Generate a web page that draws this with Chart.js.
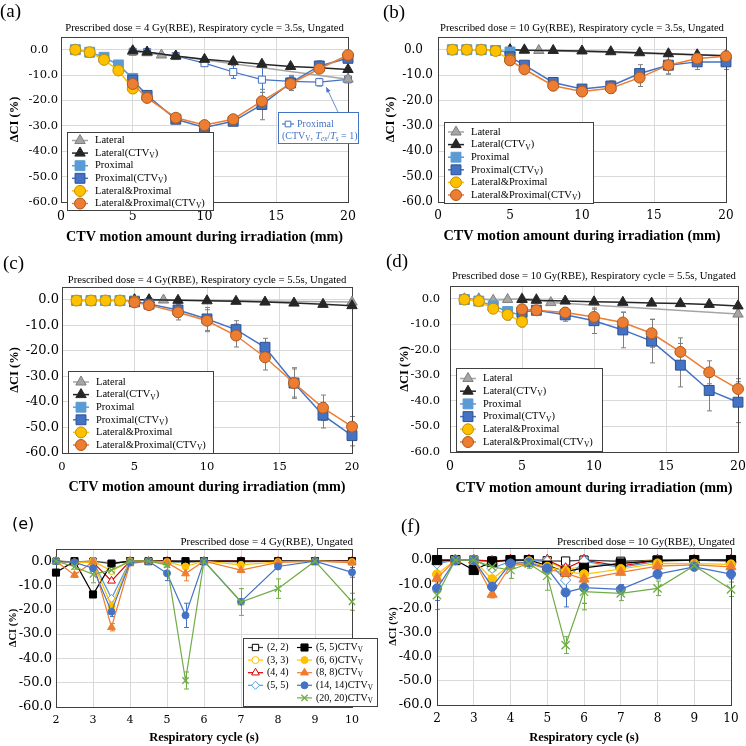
<!DOCTYPE html>
<html><head><meta charset="utf-8">
<script src="https://cdn.jsdelivr.net/npm/chart.js@4.4.1/dist/chart.umd.min.js"></script>
<style>
html,body{margin:0;padding:0;background:#fff;}
body{width:746px;height:746px;position:relative;overflow:hidden;}
canvas{position:absolute;}
.lbl{position:absolute;font-family:"Liberation Serif","Times New Roman",serif;font-size:19px;line-height:22px;color:#000;}
</style></head><body>
<canvas id="ca" width="373" height="250" style="left:0;top:0"></canvas>
<canvas id="cb" width="373" height="250" style="left:373px;top:0"></canvas>
<canvas id="cc" width="373" height="250" style="left:0;top:250px"></canvas>
<canvas id="cd" width="373" height="250" style="left:373px;top:250px"></canvas>
<canvas id="cf" width="373" height="246" style="left:373px;top:500px"></canvas>
<canvas id="ce" width="380" height="246" style="left:0;top:500px"></canvas>
<div class="lbl" style="left:0;top:0">(a)</div>
<div class="lbl" style="left:383px;top:1px">(b)</div>
<div class="lbl" style="left:3px;top:252px">(c)</div>
<div class="lbl" style="left:386px;top:250px">(d)</div>
<div class="lbl" style="left:12px;top:513px;font-family:'DejaVu Sans',sans-serif;font-size:16px">(e)</div>
<div class="lbl" style="left:401px;top:515px">(f)</div>
<script>
const FONT = '"Liberation Serif","Times New Roman",serif';
const TFONT = '"DejaVu Serif",serif';

// ---------------- DATA ----------------
const XTITLE_MOTION = 'CTV motion amount during irradiation (mm)';
const XTITLE_CYCLE = 'Respiratory cycle (s)';
const YTITLE = 'ΔCI (%)';
const LABELS_AD = ['Lateral','Lateral(CTV_{V})','Proximal','Proximal(CTV_{V})','Lateral&Proximal','Lateral&Proximal(CTV_{V})'];
const TITLE_A = 'Prescribed dose = 4 Gy(RBE), Respiratory cycle = 3.5s, Ungated';
const TITLE_B = 'Prescribed dose = 10 Gy(RBE), Respiratory cycle = 3.5s, Ungated';
const TITLE_C = 'Prescribed dose = 4 Gy(RBE), Respiratory cycle = 5.5s, Ungated';
const TITLE_D = 'Prescribed dose = 10 Gy(RBE), Respiratory cycle = 5.5s, Ungated';
const TITLE_E = 'Prescribed dose = 4 Gy(RBE), Ungated';
const TITLE_F = 'Prescribed dose = 10 Gy(RBE), Ungated';

// (a)
const A_lat_x = [5,6,7,8,20];
const A_lat_y = [-0.8,-1.2,-2.1,-2.5,-11.6];
const A_latV_x = [5,6,8,10,12,14,16,18,20];
const A_latV_y = [-0.4,-0.9,-2.5,-3.8,-4.7,-5.7,-6.6,-7.1,-7.8];
const A_prox_x = [1,2,3,4,5];
const A_prox_y = [0,-1.0,-3.0,-6.0,-11.3];
const A_proxV_x = [5,6,8,10,12,14,16,18,20];
const A_proxV_y = [-12.0,-18.0,-27.4,-30.6,-28.2,-21.6,-13.1,-6.4,-3.4];
const A_proxV_e = [1.5,1.0,1.2,1.0,1.0,6.0,3.0,2.0,1.5];
const A_lp_x = [1,2,3,4,5];
const A_lp_y = [0,-1.0,-4.0,-8.2,-15.3];
const A_lpV_x = [5,6,8,10,12,14,16,18,20];
const A_lpV_y = [-13.5,-19.0,-26.8,-29.7,-27.4,-20.3,-13.5,-7.5,-2.1];
const A_lpV_e = [1.0,1.0,1.0,1.0,1.0,1.5,2.5,1.5,1.0];
const A_pT1_label = 'Proximal';
const A_pT1_x = [5,6,8,10,12,14,16,18,20];
const A_pT1_y = [-0.8,-0.9,-2.5,-5.3,-8.8,-11.8,-12.5,-12.8,-11.7];
const A_pT1_e = [0.5,0.5,0.5,1.0,2.5,5.0,2.0,1.5,1.0];

// (b)
const B_lat_x = [5,6,7,20];
const B_lat_y = [0,0,-0.3,-2.4];
const B_latV_x = [5,6,8,10,12,14,16,18,20];
const B_latV_y = [0,-0.2,-0.3,-0.5,-0.8,-1.2,-1.6,-2.0,-2.4];
const B_prox_x = [1,2,3,4,5];
const B_prox_y = [0,0,0,-0.3,-0.9];
const B_proxV_x = [5,6,8,10,12,14,16,18,20];
const B_proxV_y = [-2.8,-6.1,-12.9,-15.5,-14.3,-9.4,-6.1,-4.8,-4.8];
const B_proxV_e = [0.5,0.8,1.0,1.5,2.0,3.5,3.5,3.0,3.0];
const B_lp_x = [1,2,3,4,5];
const B_lp_y = [0,0,0,-0.5,-4.0];
const B_lpV_x = [5,6,8,10,12,14,16,18,20];
const B_lpV_y = [-4.2,-7.7,-14.2,-16.5,-15.2,-11.0,-6.1,-3.5,-2.6];
const B_lpV_e = [0.5,0.8,1.0,1.5,2.0,3.5,3.5,2.5,2.0];

// (c)
const C_lat_x = [5,6,7,20];
const C_lat_y = [0,0,-0.1,-0.9];
const C_latV_x = [5,6,8,10,12,14,16,18,20];
const C_latV_y = [0,0,-0.2,-0.4,-0.6,-0.9,-1.3,-1.8,-2.3];
const C_prox_x = [1,2,3,4,5];
const C_prox_y = [-0.3,-0.3,-0.3,-0.3,-0.5];
const C_proxV_x = [5,6,8,10,12,14,16,18,20];
const C_proxV_y = [-0.8,-1.7,-4.0,-7.5,-11.7,-18.6,-32.6,-45.2,-53.2];
const C_proxV_e = [0.5,0.5,2.5,4.5,3.5,3.5,6.0,5.0,4.0];
const C_lp_x = [1,2,3,4,5];
const C_lp_y = [-0.3,-0.3,-0.3,-0.3,-0.8];
const C_lpV_x = [5,6,8,10,12,14,16,18,20];
const C_lpV_y = [-1.0,-2.1,-4.9,-8.2,-14.0,-22.5,-32.6,-42.3,-49.7];
const C_lpV_e = [0.5,0.5,3.0,4.3,4.5,5.0,5.5,5.0,4.0];

// (d)
const D_lat_x = [1,2,3,4,5,6,7,20];
const D_lat_y = [0,0,-0.6,-0.3,0,-0.3,-1.5,-6.0];
const D_latV_x = [5,6,8,10,12,14,16,18,20];
const D_latV_y = [-0.3,-0.6,-0.9,-1.2,-1.4,-1.7,-1.9,-2.2,-2.8];
const D_prox_x = [1,2,3,4,5];
const D_prox_y = [-0.3,-0.9,-2.8,-5.0,-6.5];
const D_prox_e = [0,0,1.0,1.5,2.0];
const D_proxV_x = [5,6,8,10,12,14,16,18,20];
const D_proxV_y = [-5.2,-4.5,-6.3,-8.6,-12.2,-16.6,-26.0,-35.9,-40.5];
const D_proxV_e = [1.0,1.0,2.5,5.0,7.0,8.5,8.5,8.0,8.0];
const D_lp_x = [1,2,3,4,5];
const D_lp_y = [-0.3,-0.9,-3.9,-6.3,-9.0];
const D_lp_e = [0,0,1.5,2.0,2.0];
const D_lpV_x = [5,6,8,10,12,14,16,18,20];
const D_lpV_y = [-4.1,-4.5,-5.4,-7.1,-9.3,-13.5,-20.8,-28.8,-35.3];
const D_lpV_e = [1.0,1.0,2.0,3.0,4.0,5.5,5.5,4.5,4.0];

// (e) and (f): respiratory cycle
const CYCLE = [2,2.5,3,3.5,4,4.5,5,5.5,6,7,8,9,10];
const LABELS_EF = ['(2, 2)','(3, 3)','(4, 4)','(5, 5)','(5, 5)CTV_{V}','(6, 6)CTV_{V}','(8, 8)CTV_{V}','(14, 14)CTV_{V}','(20, 20)CTV_{V}'];
const E_22    = [0,-0.3,0,-1.0,0,0,0,0,0,0,0,0,0];
const E_33    = [0,-0.5,0,-4.0,0,0,-0.3,-0.5,0,-0.3,0,0,-0.3];
const E_44    = [0,-0.5,-0.5,-8.1,0,0,0,-0.3,0,0,0,0,0];
const E_55    = [0,-0.5,0,-15.3,0,0,-0.3,-0.5,0,-0.3,0,0,-0.3];
const E_55v   = [-4.7,0,-13.7,-1.0,0,0,0,0,0,0,0,0,0];
const E_66v   = [0,-0.5,-0.5,-18.5,0,0,-0.3,-2.2,0,-1.5,-0.3,0,-0.3];
const E_88v   = [0,-5.7,-0.2,-27.2,-1.0,0,-0.5,-5.1,0,-3.7,-0.5,0,-0.6];
const E_88v_e = [0,1.0,0,1.5,0,0,0,3.0,0,1.0,0,0,0.5];
const E_1414v = [0,-0.5,-2.9,-20.8,-0.5,0,-5.0,-22.3,0,-16.7,-2.2,0,-4.6];
const E_1414v_e = [0,0.5,1.0,2.0,0.5,0,3.0,5.0,0,1.0,1.0,0,2.0];
const E_2020v = [0,-2.3,-5.4,-3.7,0,0,-1.5,-49.1,0,-16.8,-11.3,0,-16.7];
const E_2020v_e = [0,1.0,3.5,1.5,0,0,1.0,3.5,0,5.5,4.0,0,3.5];

const F_22    = [0,0,0,-0.3,0,0,-0.3,-0.4,0,-0.5,0,0,0];
const F_33    = [-0.5,0,0,-1.0,0,0,-0.5,-4.0,-2.5,-1.5,0,0,-0.3];
const F_44    = [-0.5,0,0,-0.5,0,0,0,-3.5,0,-2.5,0,0,0];
const F_55    = [-1.5,0,0,-3.4,-0.5,0,-0.5,-8.3,-0.5,-3.0,-0.5,0,-0.5];
const F_55v   = [0,0,-4.1,-0.7,0,0,-2.3,-4.8,-3.2,-1.4,-0.2,0,0];
const F_66v   = [-5.9,0,0,-7.9,-1.8,-0.5,-2.8,-4.6,-5.9,-3.7,-1.4,-1.5,-1.8];
const F_88v   = [-7.6,0,0,-14.2,-2.3,-1.5,-3.7,-5.5,-7.9,-5.1,-2.5,-2.0,-2.8];
const F_88v_e = [1.5,0,0,1.5,1.0,1.0,1.0,2.0,1.5,1.0,1.0,0.5,1.0];
const F_1414v = [-11.7,0,0,-11.0,-1.4,-1.0,-3.4,-13.4,-11.4,-12.1,-5.8,-2.8,-5.8];
const F_1414v_e = [5.0,0,0,1.5,1.0,1.0,2.0,6.0,6.5,2.0,2.0,1.0,2.0];
const F_2020v = [-14.5,0,0,-2.8,-4.1,-1.4,-6.5,-35.2,-13.1,-13.8,-11.7,-2.3,-12.1];
const F_2020v_e = [6.0,0,0,2.0,3.5,2.0,6.0,3.5,7.5,3.0,3.0,2.0,3.0];

// ---------------- STYLES ----------------
const ST = {
  lat:  {borderColor:'#a5a5a5', pointStyle:'triangle', pointRadius:6, pointBackgroundColor:'#a5a5a5', pointBorderColor:'#7f7f7f'},
  latV: {borderColor:'#262626', pointStyle:'triangle', pointRadius:6, pointBackgroundColor:'#262626', pointBorderColor:'#262626'},
  prox: {borderColor:'#5b9bd5', pointStyle:'rect', pointRadius:7, pointBackgroundColor:'#5b9bd5', pointBorderColor:'#5b9bd5'},
  proxV:{borderColor:'#4472c4', pointStyle:'rect', pointRadius:7, pointBackgroundColor:'#4472c4', pointBorderColor:'#2f528f'},
  lp:   {borderColor:'#ffc000', pointStyle:'circle', pointRadius:5.5, pointBackgroundColor:'#ffc000', pointBorderColor:'#bf9000'},
  lpV:  {borderColor:'#ed7d31', pointStyle:'circle', pointRadius:5.5, pointBackgroundColor:'#ed7d31', pointBorderColor:'#ae5a21'},
  pT1:  {borderColor:'#4472c4', pointStyle:'rect', pointRadius:5, pointBackgroundColor:'#ffffff', pointBorderColor:'#4472c4', borderWidth:1.2}
};
function stEF(s){ return [
  {borderColor:'#404040', pointStyle:'rect', pointRadius:4.5*s, pointBackgroundColor:'#fff', pointBorderColor:'#000'},
  {borderColor:'#ffc000', pointStyle:'circle', pointRadius:3.5*s, pointBackgroundColor:'#fff', pointBorderColor:'#ffc000'},
  {borderColor:'#e00000', pointStyle:'triangle', pointRadius:4.5*s, pointBackgroundColor:'#fff', pointBorderColor:'#e00000'},
  {borderColor:'#5b9bd5', pointStyle:'rectRot', pointRadius:4*s, pointBackgroundColor:'#fff', pointBorderColor:'#5b9bd5'},
  {borderColor:'#000000', pointStyle:'rect', pointRadius:5*s, pointBackgroundColor:'#000', pointBorderColor:'#000'},
  {borderColor:'#ffc000', pointStyle:'circle', pointRadius:3.5*s, pointBackgroundColor:'#ffc000', pointBorderColor:'#ffc000'},
  {borderColor:'#ed7d31', pointStyle:'triangle', pointRadius:4.5*s, pointBackgroundColor:'#ed7d31', pointBorderColor:'#ed7d31'},
  {borderColor:'#4472c4', pointStyle:'circle', pointRadius:3.5*s, pointBackgroundColor:'#4472c4', pointBorderColor:'#4472c4'},
  {borderColor:'#70ad47', pointStyle:'crossRot', pointRadius:4.5*s, pointBackgroundColor:'#70ad47', pointBorderColor:'#70ad47', pointBorderWidth:1.3}
];}

function ds(label, xs, ys, st, err, errColor, lw) {
  return Object.assign({label, data: xs.map((x,i)=>({x, y: ys[i]})), err: err||null, errColor: errColor||null,
    borderWidth: lw||1.5, pointBorderWidth:1, fill:false, tension:0, clip:false, pointHoverRadius:0}, st);
}
const GREY = '#7f7f7f';
function motionSets(L, lat, latV, prox, proxV, lp, lpV) {
  return [
    ds(L[0], lat[0], lat[1], ST.lat, lat[2], GREY),
    ds(L[1], latV[0], latV[1], ST.latV, latV[2], GREY),
    ds(L[2], prox[0], prox[1], ST.prox, prox[2], GREY),
    ds(L[3], proxV[0], proxV[1], ST.proxV, proxV[2], GREY),
    ds(L[4], lp[0], lp[1], ST.lp, lp[2], GREY),
    ds(L[5], lpV[0], lpV[1], ST.lpV, lpV[2], GREY)
  ];
}
function cycleSets(ys, errs, s) {
  const st = stEF(s);
  return LABELS_EF.map((lab,i)=> ds(lab, CYCLE, ys[i], st[i], errs[i], st[i].borderColor, 1.2));
}

// ---------------- DRAW HELPERS ----------------
function parseRich(s) {
  const out = []; const re = /_\{([^}]*)\}/g; let last = 0, m;
  while ((m = re.exec(s))) { if (m.index > last) out.push({t:s.slice(last, m.index)}); out.push({t:m[1], sub:true}); last = re.lastIndex; }
  if (last < s.length) out.push({t:s.slice(last)});
  return out;
}
function drawRich(ctx, x, y, segs, fs, color) {
  ctx.save(); ctx.fillStyle = color; ctx.textBaseline = 'middle'; ctx.textAlign = 'left';
  segs.forEach(g => { const size = g.sub ? fs*0.72 : fs; ctx.font = (g.it?'italic ':'') + size + 'px ' + FONT;
    ctx.fillText(g.t, x, y + (g.sub ? fs*0.28 : 0)); x += ctx.measureText(g.t).width; });
  ctx.restore(); return x;
}
function marker(ctx, st, x, y, r) {
  r = (r == null) ? st.pointRadius : r;
  ctx.save(); ctx.fillStyle = st.pointBackgroundColor; ctx.strokeStyle = st.pointBorderColor; ctx.lineWidth = st.pointBorderWidth || 1;
  ctx.beginPath();
  switch (st.pointStyle) {
    case 'circle': ctx.arc(x, y, r, 0, Math.PI*2); break;
    case 'rect': { const h = r*Math.SQRT1_2; ctx.rect(x-h, y-h, 2*h, 2*h); break; }
    case 'rectRot': ctx.moveTo(x, y-r); ctx.lineTo(x+r, y); ctx.lineTo(x, y+r); ctx.lineTo(x-r, y); ctx.closePath(); break;
    case 'triangle': ctx.moveTo(x, y-r); ctx.lineTo(x+0.866*r, y+0.5*r); ctx.lineTo(x-0.866*r, y+0.5*r); ctx.closePath(); break;
    case 'crossRot': { const h = r*Math.SQRT1_2; ctx.moveTo(x-h, y-h); ctx.lineTo(x+h, y+h); ctx.moveTo(x+h, y-h); ctx.lineTo(x-h, y+h); ctx.stroke(); ctx.restore(); return; }
  }
  ctx.fill(); ctx.stroke(); ctx.restore();
}

function deco(spec) {
  return {
    id: 'deco',
    beforeDatasetsDraw(chart) {
      const {ctx, chartArea:a} = chart; const xs = chart.scales.x, ys = chart.scales.y;
      ctx.save();
      chart.data.datasets.forEach(d => {
        if (!d.err) return;
        ctx.strokeStyle = d.errColor || d.borderColor; ctx.lineWidth = 1;
        d.data.forEach((p, j) => {
          const e = d.err[j]; if (!e) return;
          const X = Math.round(xs.getPixelForValue(p.x)) + 0.5;
          const y1 = ys.getPixelForValue(p.y + e), y2 = ys.getPixelForValue(p.y - e);
          ctx.beginPath(); ctx.moveTo(X, y1); ctx.lineTo(X, y2);
          ctx.moveTo(X-2.5, y1); ctx.lineTo(X+2.5, y1); ctx.moveTo(X-2.5, y2); ctx.lineTo(X+2.5, y2); ctx.stroke();
        });
      });
      ctx.strokeStyle = '#404040'; ctx.lineWidth = 1;
      ctx.strokeRect(Math.round(a.left)+0.5, Math.round(a.top)+0.5, Math.round(a.right - a.left), Math.round(a.bottom - a.top));
      ctx.restore();
    },
    afterDatasetsDraw(chart) {
      const {ctx, chartArea:a} = chart; const xs = chart.scales.x, ys = chart.scales.y;
      ctx.save();
      const T = spec.title;
      ctx.font = T.fs + 'px ' + FONT; ctx.fillStyle = '#000'; ctx.textBaseline = 'middle';
      if (T.align === 'end') { ctx.textAlign = 'right'; ctx.fillText(T.text, a.right + T.dx, a.top - T.dy); }
      else { ctx.textAlign = 'center'; ctx.fillText(T.text, (a.left + a.right)/2, a.top - T.dy); }
      const L = spec.legend;
      if (L) {
        ctx.fillStyle = '#fff'; ctx.fillRect(L.box[0], L.box[1], L.box[2], L.box[3]);
        ctx.strokeStyle = '#404040'; ctx.lineWidth = 1;
        ctx.strokeRect(L.box[0]+0.5, L.box[1]+0.5, L.box[2], L.box[3]);
        L.items.forEach(([di, col, row]) => {
          const d = chart.data.datasets[di]; const y = L.y0 + row*L.dy; const x0 = L.cols[col];
          ctx.strokeStyle = d.borderColor; ctx.lineWidth = d.borderWidth;
          ctx.beginPath(); ctx.moveTo(x0, y); ctx.lineTo(x0 + L.len, y); ctx.stroke();
          marker(ctx, d, x0 + L.len/2, y);
          drawRich(ctx, x0 + L.len + L.gap, y, parseRich(d.label), L.fs, '#000');
        });
      }
      const N = spec.note;
      if (N) {
        const d = chart.data.datasets[N.ds]; const p = d.data[N.pt];
        const tx = xs.getPixelForValue(p.x) + N.tip[0], ty = ys.getPixelForValue(p.y) + N.tip[1];
        const fx = N.tail[0], fy = N.tail[1];
        ctx.strokeStyle = '#4472c4'; ctx.fillStyle = '#4472c4'; ctx.lineWidth = 0.8;
        ctx.beginPath(); ctx.moveTo(fx, fy); ctx.lineTo(tx, ty); ctx.stroke();
        const ang = Math.atan2(ty - fy, tx - fx);
        ctx.beginPath(); ctx.moveTo(tx, ty);
        ctx.lineTo(tx - 5*Math.cos(ang) + 2.2*Math.sin(ang), ty - 5*Math.sin(ang) - 2.2*Math.cos(ang));
        ctx.lineTo(tx - 5*Math.cos(ang) - 2.2*Math.sin(ang), ty - 5*Math.sin(ang) + 2.2*Math.cos(ang));
        ctx.closePath(); ctx.fill();
        const b = N.box;
        ctx.fillStyle = '#fff'; ctx.fillRect(b[0], b[1], b[2], b[3]);
        ctx.strokeStyle = '#4472c4'; ctx.lineWidth = 1; ctx.strokeRect(b[0]+0.5, b[1]+0.5, b[2], b[3]);
        ctx.lineWidth = d.borderWidth; ctx.beginPath(); ctx.moveTo(b[0]+4, b[1]+12); ctx.lineTo(b[0]+16, b[1]+12); ctx.stroke();
        marker(ctx, d, b[0]+10, b[1]+12, 4);
        drawRich(ctx, b[0]+19, b[1]+12, [{t:d.label}], N.fs, '#4472c4');
        drawRich(ctx, b[0]+4, b[1]+24.5, [{t:'(CTV'},{t:'V',sub:true},{t:', '},{t:'T',it:true},{t:'ex',sub:true,it:true},{t:'/'},{t:'T',it:true},{t:'s',sub:true,it:true},{t:' = 1)'}], N.fs, '#4472c4');
      }
      ctx.restore();
    }
  };
}

function build(id, spec) {
  spec.datasets.forEach((d, i) => { d.order = -i; });
  const cv = document.getElementById(id);
  return new Chart(cv.getContext('2d'), {
    type: 'line',
    data: {datasets: spec.datasets},
    options: {
      responsive: false, animation: false, devicePixelRatio: 1, events: [],
      layout: {padding: {left: 0, top: spec.area[1], right: spec.W - spec.area[2], bottom: 0}},
      plugins: {legend: {display: false}, tooltip: {enabled: false}, title: {display: false}},
      scales: {
        x: {type: 'linear', min: spec.x.min, max: spec.x.max,
          ticks: {stepSize: spec.x.step, autoSkip: false, maxRotation: 0, padding: spec.x.pad, color: '#000',
                  font: {family: TFONT, size: spec.x.fs}, callback: v => String(v)},
          grid: {color: '#d9d9d9', drawTicks: false}, border: {display: false},
          title: {display: true, text: spec.x.title, color: '#000',
                  font: {family: FONT, size: spec.x.tfs, weight: 'bold', lineHeight: 1.2}, padding: {top: 0, bottom: spec.x.tpad}},
          afterFit(s) { s.height = spec.H - spec.area[3]; s.paddingLeft = 0; s.paddingRight = 0; }},
        y: {type: 'linear', min: -60, max: 5,
          ticks: {stepSize: 10, padding: spec.y.pad, color: '#000', font: {family: TFONT, size: spec.y.fs},
                  callback: v => (Math.abs(v) < 1e-9 && spec.y.zeroPad) ? '0.0\u2007\u2009' : Number(v).toFixed(1)},
          afterBuildTicks(s) { s.ticks = s.ticks.filter(t => t.value <= 1e-9); },
          grid: {color: '#d9d9d9', drawTicks: false}, border: {display: false},
          title: {display: true, text: YTITLE, color: '#000',
                  font: {family: FONT, size: spec.y.tfs, weight: 'bold', lineHeight: 1.2}, padding: {top: spec.y.tpad, bottom: 0}},
          afterFit(s) { s.width = spec.area[0]; s.paddingTop = 0; s.paddingBottom = 0; }}
      }
    },
    plugins: [deco(spec)]
  });
}

const XM = (tpad, fs) => ({min: 0, max: 20, step: 5, pad: 7, fs, title: XTITLE_MOTION, tfs: 14.2, tpad});
const XC = (tpad, fs) => ({min: 2, max: 10, step: 1, pad: 7, fs, title: XTITLE_CYCLE, tfs: 12.5, tpad});
const legAD = (box, y0, dy, lx) => ({box, y0, dy, cols: [lx], len: 16, gap: 7, fs: 10.5,
  items: [[0,0,0],[1,0,1],[2,0,2],[3,0,3],[4,0,4],[5,0,5]]});

// (a)
const setsA = [ds(A_pT1_label, A_pT1_x, A_pT1_y, ST.pT1, A_pT1_e, '#4472c4', 1.2)].concat(
  motionSets(LABELS_AD, [A_lat_x, A_lat_y], [A_latV_x, A_latV_y], [A_prox_x, A_prox_y],
             [A_proxV_x, A_proxV_y, A_proxV_e], [A_lp_x, A_lp_y], [A_lpV_x, A_lpV_y, A_lpV_e]));
const legA = legAD([67,132,146,78], 140.5, 12.6, 72);
legA.items = legA.items.map(([i,c,r]) => [i+1, c, r]);
build('ca', {W:373, H:250, area:[61,37,348,202], x: XM(4.5, 12.5), y:{pad:3, fs:11.5, tfs:12.5, tpad:7.5, zeroPad:true},
  title:{text:TITLE_A, fs:10.7, dy:9}, datasets:setsA, legend:legA,
  note:{ds:0, pt:7, tip:[7,5], tail:[338,112], box:[278,112,80,31], fs:10}});

// (b)
build('cb', {W:373, H:250, area:[65,37,353,202], x: XM(5.5, 12), y:{pad:5, fs:12, tfs:12.5, tpad:10.5, zeroPad:true},
  title:{text:TITLE_B, fs:10.7, dy:9},
  datasets: motionSets(LABELS_AD, [B_lat_x, B_lat_y], [B_latV_x, B_latV_y], [B_prox_x, B_prox_y],
             [B_proxV_x, B_proxV_y, B_proxV_e], [B_lp_x, B_lp_y], [B_lpV_x, B_lpV_y, B_lpV_e]),
  legend: legAD([71,122,149,81], 132, 12.6, 75)});

// (c)
build('cc', {W:373, H:250, area:[62,37,352,203], x: XM(4.5, 11.5), y:{pad:3, fs:13, tfs:12.5, tpad:7.5, zeroPad:false},
  title:{text:TITLE_C, fs:10.7, dy:7},
  datasets: motionSets(LABELS_AD, [C_lat_x, C_lat_y], [C_latV_x, C_latV_y], [C_prox_x, C_prox_y],
             [C_proxV_x, C_proxV_y, C_proxV_e], [C_lp_x, C_lp_y], [C_lpV_x, C_lpV_y, C_lpV_e]),
  legend: legAD([68,121,145,82], 132, 12.6, 73)});

// (d)
build('cd', {W:373, H:250, area:[77,36,367,202], x: XM(3.5, 12.5), y:{pad:10, fs:11.5, tfs:12.5, tpad:24.5, zeroPad:false},
  title:{text:TITLE_D, fs:10.7, dy:10},
  datasets: motionSets(LABELS_AD, [D_lat_x, D_lat_y], [D_latV_x, D_latV_y], [D_prox_x, D_prox_y, D_prox_e],
             [D_proxV_x, D_proxV_y, D_proxV_e], [D_lp_x, D_lp_y, D_lp_e], [D_lpV_x, D_lpV_y, D_lpV_e]),
  legend: legAD([83,118,146,83], 128.5, 12.7, 87)});

// (e)
build('ce', {W:380, H:246, area:[56,49,352,207], x: XC(0.5, 11), y:{pad:4, fs:13, tfs:10.5, tpad:6.5, zeroPad:false},
  title:{text:TITLE_E, fs:10.9, dy:7, align:'end', dx:1},
  datasets: cycleSets([E_22,E_33,E_44,E_55,E_55v,E_66v,E_88v,E_1414v,E_2020v],
                      [null,null,null,null,null,null,E_88v_e,E_1414v_e,E_2020v_e], 1),
  legend: {box:[243,138,134,68], y0:147.5, dy:12.6, cols:[248,297], len:15, gap:4, fs:10,
    items:[[0,0,0],[4,1,0],[1,0,1],[5,1,1],[2,0,2],[6,1,2],[3,0,3],[7,1,3],[8,1,4]]}});

// (f)
build('cf', {W:373, H:246, area:[64,48,358,205], x: XC(0.5, 12), y:{pad:5, fs:13, tfs:10.5, tpad:13.5, zeroPad:false},
  title:{text:TITLE_F, fs:10.9, dy:6, align:'end', dx:4},
  datasets: cycleSets([F_22,F_33,F_44,F_55,F_55v,F_66v,F_88v,F_1414v,F_2020v],
                      [null,null,null,null,null,null,F_88v_e,F_1414v_e,F_2020v_e], 1.3),
  legend: null});
</script>
</body></html>
